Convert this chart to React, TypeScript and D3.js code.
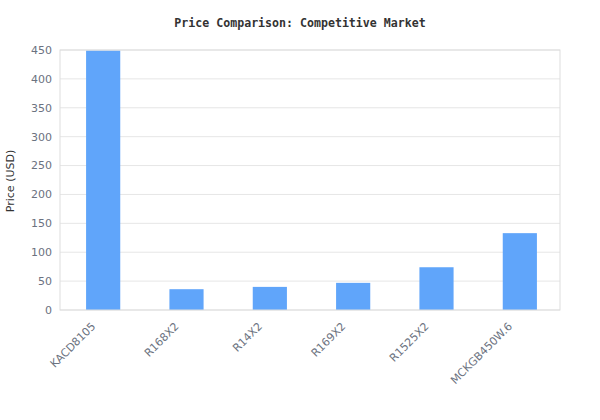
import React from "react";
import * as d3 from "d3";

const models = ["KACD8105", "R168X2", "R14X2", "R169X2", "R1525X2", "MCKGB450W.6"];
const prices = [449, 36, 40, 47, 74, 133];
const yTicks = [0, 50, 100, 150, 200, 250, 300, 350, 400, 450];

const width = 600;
const height = 420;
const margin = { top: 50, right: 40, bottom: 110, left: 60 };

export default function App() {
  // bars sit a touch right of the band centre in the original
  const x = d3
    .scaleBand()
    .domain(models)
    .range([margin.left + 1.5, width - margin.right + 1.5])
    .paddingInner(0.59)
    .paddingOuter(0.295);

  const y = d3
    .scaleLinear()
    .domain([0, 450])
    .range([height - margin.bottom, margin.top]);

  const tickFont = "DejaVu Sans, sans-serif";

  return (
    <svg
      width={width}
      height={height}
      style={{ position: "absolute", left: 0, top: 0, background: "#fff" }}
    >
      <text
        x={width / 2}
        y={27}
        textAnchor="middle"
        fontFamily="DejaVu Sans Mono, monospace"
        fontWeight="bold"
        fontSize={11.6}
        fill="#333"
      >
        Price Comparison: Competitive Market
      </text>

      {/* gridlines */}
      {yTicks.map((t) => (
        <line
          key={t}
          x1={margin.left}
          x2={width - margin.right}
          y1={y(t)}
          y2={y(t)}
          stroke="#e6e6e6"
          strokeWidth={1}
        />
      ))}

      {/* bars */}
      {models.map((m, i) => (
        <rect
          key={m}
          x={x(m)}
          y={y(prices[i])}
          width={x.bandwidth()}
          height={y(0) - y(prices[i])}
          fill="#60a5fa"
        />
      ))}

      {/* frame */}
      <rect
        x={margin.left}
        y={margin.top}
        width={width - margin.left - margin.right}
        height={height - margin.top - margin.bottom}
        fill="none"
        stroke="#dddddd"
        strokeWidth={1}
      />

      {/* y tick labels */}
      {yTicks.map((t) => (
        <text
          key={t}
          x={margin.left - 8}
          y={y(t)}
          dy="0.35em"
          textAnchor="end"
          fontFamily={tickFont}
          fontSize={11}
          fill="#6b7280"
        >
          {t}
        </text>
      ))}

      {/* x tick labels */}
      {models.map((m) => {
        const cx = (x(m) ?? 0) + x.bandwidth() / 2;
        const cy = height - margin.bottom + 17;
        return (
          <text
            key={m}
            transform={`translate(${cx - 7},${cy}) rotate(-45)`}
            textAnchor="end"
            fontFamily={tickFont}
            fontSize={11}
            fill="#6b7280"
          >
            {m}
          </text>
        );
      })}

      <text
        transform={`translate(14,${(margin.top + height - margin.bottom) / 2 + 1}) rotate(-90)`}
        textAnchor="middle"
        fontFamily={tickFont}
        fontSize={11}
        fill="#333"
      >
        Price (USD)
      </text>
    </svg>
  );
}
